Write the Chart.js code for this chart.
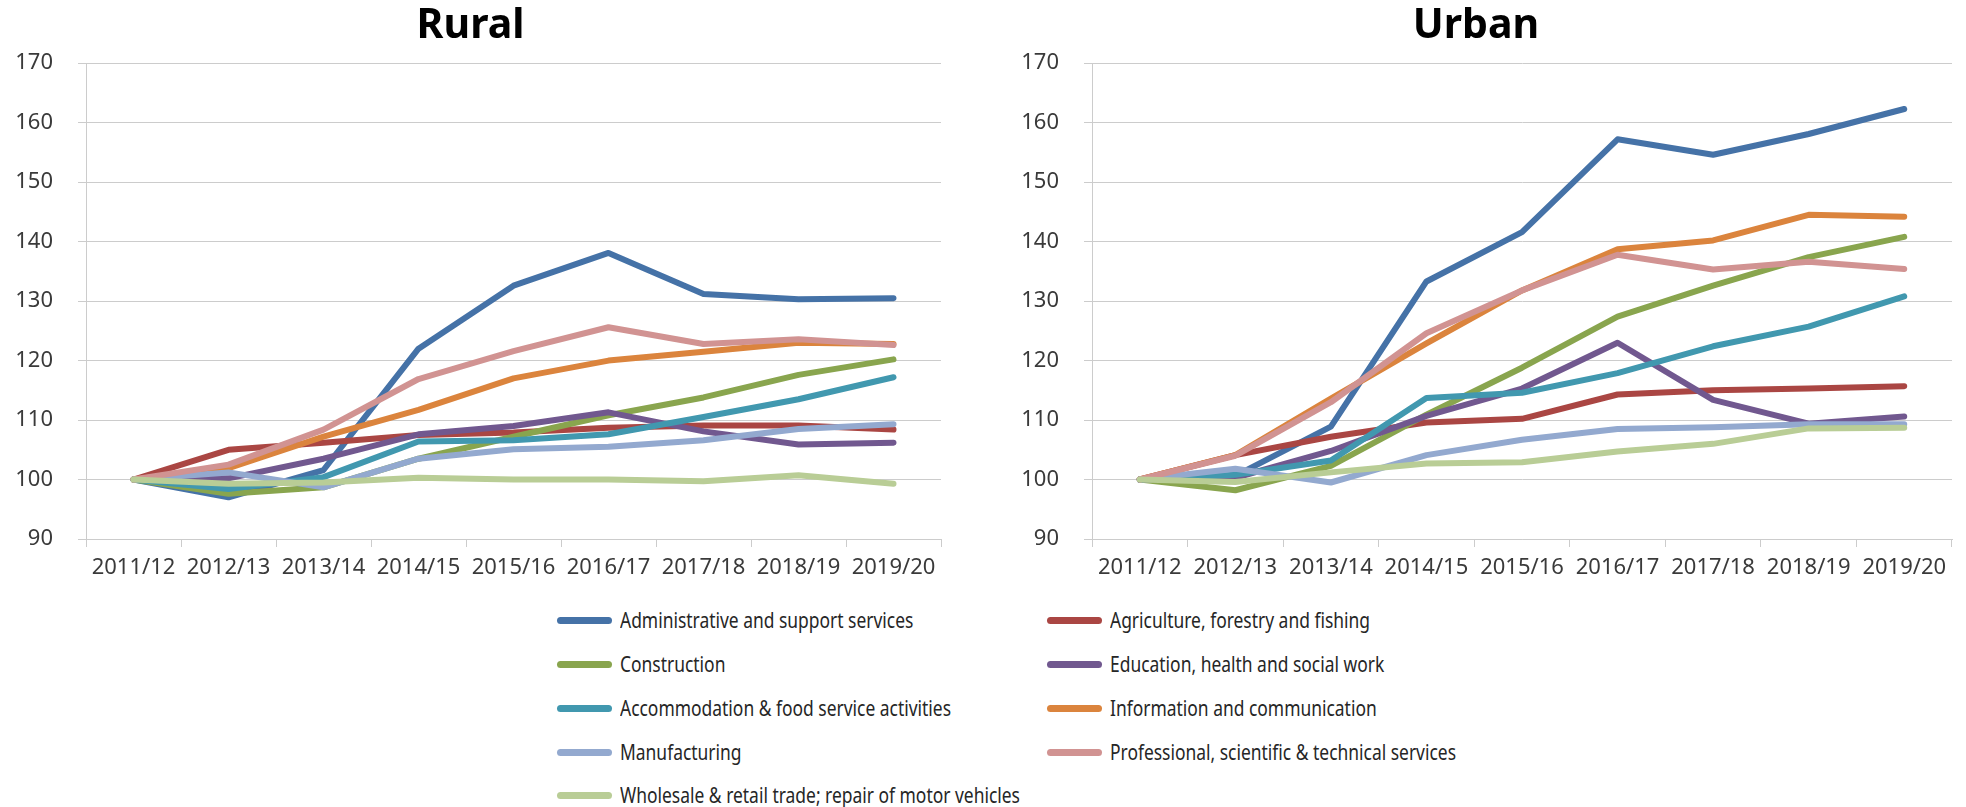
<!DOCTYPE html>
<html>
<head>
<meta charset="utf-8">
<script src="https://cdn.jsdelivr.net/npm/chart.js@4.4.1/dist/chart.umd.min.js"></script>
<style>
  html, body { margin: 0; padding: 0; background: #fff; }
  body { width: 1966px; height: 807px; position: relative; overflow: hidden; font-family: "Noto Sans", sans-serif; }
  canvas { position: absolute; top: 0; }
  #rural { left: 0; }
  #urban { left: 1000px; }
  .leg { position: absolute; height: 26px; display: flex; align-items: center; white-space: nowrap; }
  .leg i { display: block; width: 55px; height: 7px; border-radius: 3.5px; margin-right: 8px; }
  .leg span { font-size: 21px; color: #262626; display: inline-block; transform: scaleX(0.83); transform-origin: left center; }
</style>
</head>
<body>
<canvas id="rural" width="954" height="600"></canvas>
<canvas id="urban" width="966" height="600"></canvas>
<div id="legend"></div>
<script>
const years = ["2011/12", "2012/13", "2013/14", "2014/15", "2015/16", "2016/17", "2017/18", "2018/19", "2019/20"];

const sectors = [
  "Administrative and support services",
  "Agriculture, forestry and fishing",
  "Construction",
  "Education, health and social work",
  "Accommodation & food service activities",
  "Information and communication",
  "Manufacturing",
  "Professional, scientific & technical services",
  "Wholesale & retail trade; repair of motor vehicles"
];

const colors = ["#4572A7", "#AA4643", "#89A54E", "#71588F", "#4198AF", "#DB843D", "#93A9CF", "#D19392", "#B9CD96"];

const yTicks = [90, 100, 110, 120, 130, 140, 150, 160, 170];

// Rural index (2011/12 = 100)
const ruralAdmin  = [100, 97.0, 101.6, 122.0, 132.6, 138.1, 131.2, 130.3, 130.5];
const ruralAgri   = [100, 105.0, 106.2, 107.5, 107.9, 108.7, 109.1, 109.1, 108.4];
const ruralConstr = [100, 97.6, 98.7, 103.5, 107.2, 110.8, 113.8, 117.6, 120.2];
const ruralEduc   = [100, 100.2, 103.5, 107.6, 109.0, 111.3, 108.1, 105.9, 106.2];
const ruralAccom  = [100, 98.4, 100.4, 106.4, 106.6, 107.6, 110.5, 113.5, 117.2];
const ruralInfo   = [100, 101.9, 107.2, 111.7, 117.0, 120.0, 121.5, 123.0, 122.8];
const ruralManuf  = [100, 101.2, 98.7, 103.5, 105.1, 105.5, 106.6, 108.5, 109.3];
const ruralProf   = [100, 102.5, 108.4, 116.9, 121.6, 125.6, 122.8, 123.6, 122.6];
const ruralTrade  = [100, 99.3, 99.5, 100.3, 100.0, 100.0, 99.7, 100.7, 99.3];

// Urban index (2011/12 = 100)
const urbanAdmin  = [100, 100.6, 108.9, 133.3, 141.6, 157.2, 154.6, 158.1, 162.3];
const urbanAgri   = [100, 104.1, 107.2, 109.6, 110.2, 114.3, 115.0, 115.3, 115.7];
const urbanConstr = [100, 98.2, 102.3, 110.9, 118.8, 127.4, 132.6, 137.4, 140.8];
const urbanEduc   = [100, 100.3, 104.8, 110.7, 115.3, 123.0, 113.4, 109.4, 110.6];
const urbanAccom  = [100, 100.8, 103.2, 113.7, 114.6, 117.9, 122.4, 125.7, 130.8];
const urbanInfo   = [100, 104.1, 113.6, 122.9, 131.8, 138.7, 140.2, 144.5, 144.2];
const urbanManuf  = [100, 101.8, 99.5, 104.1, 106.7, 108.5, 108.8, 109.3, 109.3];
const urbanProf   = [100, 104.0, 113.0, 124.6, 131.8, 137.8, 135.3, 136.6, 135.4];
const urbanTrade  = [100, 99.6, 101.2, 102.7, 102.9, 104.7, 106.0, 108.6, 108.7];

const ruralSeries = [ruralAdmin, ruralAgri, ruralConstr, ruralEduc, ruralAccom, ruralInfo, ruralManuf, ruralProf, ruralTrade];
const urbanSeries = [urbanAdmin, urbanAgri, urbanConstr, urbanEduc, urbanAccom, urbanInfo, urbanManuf, urbanProf, urbanTrade];

const tickFont = { family: "Noto Sans", size: 22 };
const tickColor = "#3a3a3a";
const gridColor = "#cccccc";

function makeChart(id, title, series, axisWidth, padRight) {
  return new Chart(document.getElementById(id), {
    type: "line",
    data: {
      labels: years,
      datasets: sectors.map((name, i) => ({
        label: name,
        data: series[i],
        borderColor: colors[i],
        backgroundColor: colors[i],
        borderWidth: 6,
        pointRadius: 0,
        tension: 0,
        borderJoinStyle: "round",
        borderCapStyle: "round",
        order: sectors.length - i
      }))
    },
    options: {
      responsive: false,
      animation: false,
      layout: { padding: { left: 0, right: padRight, top: 0, bottom: 0 } },
      plugins: {
        legend: { display: false },
        tooltip: { enabled: false },
        title: {
          display: true,
          text: title,
          color: "#000",
          font: { family: "Noto Sans", size: 41, weight: "bold" },
          padding: { top: 2, bottom: 12 }
        }
      },
      scales: {
        x: {
          offset: true,
          grid: { offset: true, drawOnChartArea: false, color: gridColor, tickLength: 8 },
          border: { color: gridColor },
          ticks: { font: tickFont, color: tickColor, padding: 8, maxRotation: 0, autoSkip: false },
          afterFit: (s) => { s.height = 61; }
        },
        y: {
          min: yTicks[0],
          max: yTicks[yTicks.length - 1],
          afterBuildTicks: (s) => { s.ticks = yTicks.map(v => ({ value: v })); },
          grid: { color: gridColor, tickLength: 8 },
          border: { color: gridColor },
          ticks: { font: tickFont, color: tickColor, padding: 25 },
          afterFit: (s) => { s.width = axisWidth; }
        }
      }
    }
  });
}

makeChart("rural", "Rural", ruralSeries, 86, 13);
makeChart("urban", "Urban", urbanSeries, 92, 14);

// ================= LEGEND =================
const legendCols = [557, 1047];
const legendRows = [620, 664, 708, 752, 795];
const legend = document.getElementById("legend");
sectors.forEach((name, i) => {
  const item = document.createElement("div");
  item.className = "leg";
  item.style.left = legendCols[i % 2] + "px";
  item.style.top = (legendRows[Math.floor(i / 2)] - 13) + "px";
  item.innerHTML = `<i style="background:${colors[i]}"></i><span>${name}</span>`;
  legend.appendChild(item);
});
</script>
</body>
</html>
